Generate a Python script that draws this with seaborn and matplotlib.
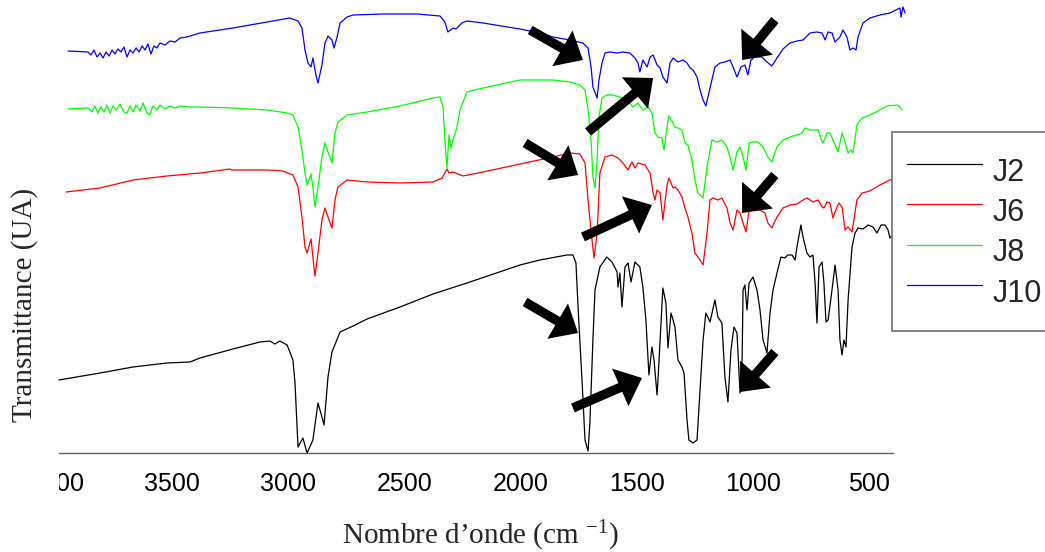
import numpy as np
import pandas as pd
import seaborn as sns
import matplotlib.pyplot as plt
from matplotlib.lines import Line2D
from matplotlib.transforms import Bbox, TransformedBbox

# Spectra (wavenumber in cm-1, transmittance in arbitrary units, offset stacked)
samples = ["J2", "J6", "J8", "J10"]
colors = ["black", "#ff0000", "#00ff00", "#0000ff"]

wn_j2 = [3988, 3811, 3669, 3523, 3424, 3381, 3239, 3123, 3080, 3058, 3037, 3006, 2981, 2972, 2959,
         2938, 2920, 2895, 2873, 2856, 2847, 2830, 2813, 2778, 2722, 2662, 2520, 2378, 2232, 2004,
         1918, 1802, 1776, 1763, 1754, 1737, 1724, 1711, 1703, 1690, 1681, 1660, 1630, 1608, 1586,
         1582, 1574, 1565, 1552, 1539, 1526, 1509, 1488, 1475, 1462, 1449, 1436, 1427, 1414, 1410,
         1397, 1389, 1376, 1367, 1354, 1345, 1337, 1324, 1307, 1298, 1285, 1277, 1259, 1242, 1229,
         1216, 1204, 1186, 1165, 1152, 1135, 1122, 1109, 1096, 1083, 1070, 1057, 1048, 1044, 1036,
         1027, 1018, 1001, 984, 971, 958, 941, 928, 915, 898, 881, 864, 851, 833, 820,
         812, 795, 786, 769, 756, 743, 734, 726, 717, 704, 696, 687, 678, 665, 648,
         635, 627, 618, 610, 601, 592, 575, 562, 549, 528, 506, 485, 468, 450, 433,
         420, 412, 399, 360]
t_j2 = [73, 80, 86, 90, 91, 95, 104, 111, 112, 109, 112, 108, 93, 70, 6,
        15, 0, 13, 50, 36, 28, 76, 101, 121, 127, 134, 146, 159, 170, 188,
        193, 198, 198, 190, 146, 73, 13, 2, 30, 113, 163, 186, 196, 191, 181,
        166, 180, 146, 186, 190, 171, 191, 186, 166, 133, 78, 106, 93, 58, 73,
        130, 165, 150, 105, 140, 133, 126, 93, 86, 80, 33, 13, 10, 13, 63,
        113, 140, 131, 153, 136, 130, 76, 51, 103, 126, 120, 60, 93, 163, 168,
        143, 170, 176, 163, 143, 113, 100, 140, 163, 180, 196, 195, 198, 198, 193,
        206, 228, 216, 200, 196, 198, 170, 130, 186, 191, 170, 131, 133, 156, 188,
        163, 113, 98, 113, 106, 153, 206, 220, 225, 224, 228, 226, 220, 228, 228,
        223, 215, 218, 222]

wn_j6 = [3957, 3811, 3669, 3523, 3381, 3252, 3243, 3092, 3024, 2981, 2959, 2942, 2929, 2920, 2903,
         2895, 2886, 2873, 2856, 2843, 2830, 2813, 2800, 2787, 2748, 2662, 2520, 2378, 2339, 2318,
         2309, 2292, 2249, 2163, 2004, 1862, 1789, 1746, 1724, 1711, 1694, 1685, 1672, 1660, 1638,
         1608, 1582, 1561, 1539, 1522, 1509, 1496, 1466, 1444, 1431, 1423, 1414, 1401, 1389, 1371,
         1363, 1345, 1337, 1324, 1307, 1294, 1281, 1264, 1251, 1229, 1216, 1199, 1186, 1173, 1152,
         1135, 1113, 1100, 1087, 1070, 1057, 1044, 1031, 1018, 1001, 971, 950, 937, 920, 898,
         872, 842, 812, 786, 769, 743, 721, 704, 696, 683, 670, 657, 640, 631, 618,
         605, 592, 575, 554, 532, 498, 455, 412, 347]
t_j6 = [261, 265, 273, 277, 280, 284, 283, 283, 282, 278, 266, 236, 206, 200, 214,
        196, 177, 200, 233, 245, 236, 225, 253, 266, 273, 271, 270, 271, 275, 284,
        280, 281, 277, 281, 289, 296, 300, 299, 290, 253, 213, 195, 220, 280, 296,
        298, 295, 290, 283, 291, 285, 290, 288, 280, 260, 253, 263, 260, 233, 268,
        275, 265, 266, 263, 256, 245, 236, 220, 200, 193, 188, 220, 253, 255, 253,
        255, 245, 230, 223, 243, 240, 230, 221, 243, 244, 243, 240, 230, 225, 236,
        245, 248, 249, 253, 255, 251, 253, 246, 245, 251, 250, 235, 246, 250, 246,
        223, 226, 221, 253, 260, 262, 268, 273, 277]

wn_j8 = [3949, 3863, 3846, 3833, 3820, 3807, 3794, 3781, 3768, 3755, 3742, 3725, 3708, 3695, 3682,
         3669, 3656, 3639, 3626, 3609, 3596, 3583, 3566, 3553, 3531, 3510, 3488, 3467, 3424, 3381,
         3239, 3092, 3006, 2981, 2959, 2942, 2929, 2920, 2903, 2895, 2886, 2873, 2856, 2843, 2830,
         2813, 2800, 2787, 2748, 2662, 2520, 2378, 2348, 2335, 2327, 2318, 2309, 2301, 2292, 2275,
         2262, 2232, 2163, 2004, 1862, 1789, 1746, 1724, 1711, 1698, 1690, 1681, 1672, 1664, 1651,
         1630, 1604, 1574, 1543, 1518, 1496, 1475, 1453, 1436, 1423, 1410, 1393, 1384, 1371, 1363,
         1345, 1337, 1324, 1307, 1294, 1281, 1264, 1251, 1238, 1216, 1199, 1178, 1156, 1135, 1113,
         1100, 1087, 1070, 1057, 1044, 1031, 1018, 1001, 980, 958, 937, 920, 898, 872, 842,
         812, 790, 777, 756, 721, 704, 700, 683, 670, 657, 644, 635, 618, 605, 592,
         579, 571, 554, 532, 498, 463, 424, 381, 369, 360]
t_j8 = [344, 345, 341, 347, 340, 346, 341, 348, 340, 347, 343, 349, 341, 340, 347,
        341, 348, 342, 350, 340, 338, 347, 343, 348, 344, 347, 345, 347, 346, 346,
        345, 343, 340, 338, 326, 303, 280, 268, 279, 266, 246, 266, 296, 310, 301,
        290, 320, 331, 338, 341, 347, 355, 356, 346, 313, 285, 318, 305, 313, 326,
        343, 361, 365, 373, 373, 371, 368, 363, 343, 313, 276, 265, 293, 336, 355,
        358, 358, 356, 353, 346, 350, 343, 346, 340, 320, 316, 315, 303, 326, 337,
        330, 326, 325, 323, 310, 308, 293, 273, 260, 255, 286, 313, 311, 313, 306,
        296, 283, 301, 306, 296, 283, 310, 311, 311, 306, 296, 291, 306, 313, 316,
        318, 320, 325, 323, 323, 311, 310, 320, 320, 313, 306, 301, 320, 311, 300,
        303, 300, 328, 335, 338, 342, 347, 348, 346, 343]

wn_j10 = [3949, 3863, 3850, 3837, 3824, 3811, 3798, 3785, 3772, 3759, 3747, 3734, 3721, 3708, 3695,
          3682, 3669, 3656, 3643, 3630, 3617, 3605, 3592, 3579, 3566, 3553, 3531, 3510, 3488, 3467,
          3437, 3381, 3239, 3092, 2994, 2959, 2942, 2929, 2916, 2903, 2895, 2882, 2873, 2856, 2843,
          2830, 2813, 2804, 2791, 2778, 2748, 2722, 2593, 2447, 2348, 2327, 2314, 2292, 2279, 2254,
          2232, 2163, 2004, 1918, 1862, 1789, 1733, 1711, 1698, 1690, 1672, 1664, 1651, 1638, 1617,
          1586, 1561, 1531, 1509, 1496, 1488, 1475, 1457, 1444, 1431, 1414, 1401, 1389, 1371, 1358,
          1345, 1324, 1302, 1285, 1272, 1259, 1242, 1229, 1216, 1204, 1195, 1178, 1165, 1143, 1122,
          1100, 1087, 1070, 1053, 1036, 1023, 1010, 993, 963, 941, 920, 898, 872, 842, 812,
          786, 756, 726, 704, 691, 678, 661, 648, 627, 614, 597, 584, 571, 558, 549,
          528, 498, 455, 412, 369, 364, 356, 347]
t_j10 = [402, 401, 398, 403, 396, 400, 395, 401, 397, 403, 399, 404, 401, 406, 396,
         403, 400, 405, 401, 407, 403, 409, 399, 407, 405, 410, 408, 412, 411, 415,
         416, 420, 425, 431, 435, 432, 425, 403, 390, 386, 395, 378, 370, 388, 410,
         417, 413, 405, 416, 430, 436, 438, 439, 439, 437, 431, 421, 425, 424, 430,
         432, 430, 424, 420, 416, 413, 410, 405, 386, 366, 355, 373, 390, 400, 401,
         400, 401, 400, 395, 390, 381, 393, 386, 396, 398, 388, 385, 376, 370, 390,
         395, 391, 393, 390, 385, 383, 376, 363, 353, 347, 356, 373, 386, 390, 391,
         393, 386, 376, 386, 388, 378, 393, 396, 396, 391, 387, 395, 404, 410, 412,
         413, 420, 421, 420, 413, 421, 420, 411, 416, 423, 416, 403, 405, 403, 416,
         430, 435, 438, 440, 445, 436, 446, 440]

major_ticks = [4000, 3500, 3000, 2500, 2000, 1500, 1000, 500]
minor_ticks = [3750, 3250, 2750, 2250, 1750, 1250, 750]

# arrows pointing at bands: tail -> head (wavenumber, transmittance)
arrow_x0 = [1960, 1711, 907, 1982, 1733, 907, 1982, 1776, 907]
arrow_y0 = [423, 321, 433, 310, 216, 278, 151, 45, 101]
arrow_x1 = [1733, 1431, 1048, 1754, 1436, 1048, 1754, 1479, 1057]
arrow_y1 = [393, 375, 393, 278, 248, 240, 120, 75, 61]

frames = []
for name, wn, t in zip(samples, [wn_j2, wn_j6, wn_j8, wn_j10], [t_j2, t_j6, t_j8, t_j10]):
    frames.append(pd.DataFrame({"wn": wn, "T": t, "sample": name}))
df = pd.concat(frames, ignore_index=True)

sns.set_style("white")
plt.rcParams["font.family"] = ["Liberation Sans", "DejaVu Sans"]
plt.rcParams["mathtext.fontset"] = "custom"
plt.rcParams["mathtext.rm"] = "Liberation Serif"
plt.rcParams["mathtext.it"] = "Liberation Serif:italic"

fig = plt.figure(figsize=(10.45, 5.52), dpi=100)
ax = fig.add_axes([56.1 / 1045, 99 / 552, 836.6 / 1045, 448 / 552])

sns.lineplot(data=df, x="wn", y="T", hue="sample", hue_order=samples, palette=colors,
             estimator=None, sort=False, lw=0.9, legend=False, ax=ax, clip_on=False)

ax.set_xlim(4000, 400)
ax.set_ylim(0, 448)
ax.set_xticks(major_ticks)
ax.set_xticklabels([str(v) for v in major_ticks])
ax.set_xticks(minor_ticks, minor=True)
ax.set_yticks([])
ax.tick_params(axis="x", which="major", direction="out", length=7.5, width=1,
               color="#606060", labelsize=18, pad=6, labelcolor="black")
ax.tick_params(axis="x", which="minor", direction="out", length=3.8, width=1, color="#606060")
ax.xaxis.get_major_ticks()[0].tick1line.set_visible(False)

for side in ["left", "top", "right"]:
    ax.spines[side].set_visible(False)
ax.spines["bottom"].set_color("#606060")
ax.spines["bottom"].set_linewidth(1.0)
ax.spines["bottom"].set_bounds(3988, 400)

# the first label is cut by the plot frame, as in the original
clip = TransformedBbox(Bbox([[59 / 1045, 0], [1, 0.5]]), fig.transFigure)
for lab in ax.get_xticklabels():
    lab.set_clip_box(clip)
    lab.set_clip_on(True)

ax.set_xlabel("Nombre d\u2019onde (cm $^{-1}$)", fontsize=21, family="Liberation Serif")
ax.xaxis.label.set_va("center")
ax.xaxis.set_label_coords(0.507, -0.186)
ax.set_ylabel("Transmittance (UA)", fontsize=21, family="Liberation Serif")
ax.yaxis.label.set_va("center")
ax.yaxis.set_label_coords(-0.038, 0.33)

for x0, y0, x1, y1 in zip(arrow_x0, arrow_y0, arrow_x1, arrow_y1):
    ax.annotate("", xy=(x1, y1), xytext=(x0, y0), annotation_clip=False,
                arrowprops=dict(arrowstyle="simple,head_length=1.7,head_width=2.95,tail_width=0.68",
                                fc="black", ec="black", lw=0, shrinkA=0, shrinkB=0,
                                mutation_scale=10))

handles = [Line2D([], [], color=c, lw=0.9) for c in colors]
leg = ax.legend(handles, samples, loc="upper left", bbox_to_anchor=(892 / 1045, 1 - 132 / 552),
                bbox_transform=fig.transFigure, fontsize=22, frameon=True, fancybox=False,
                edgecolor="#707070", facecolor="white", framealpha=1, borderpad=0.5,
                labelspacing=-0.225, handleheight=2.0, handlelength=2.45, handletextpad=0.33,
                borderaxespad=0)
leg.get_frame().set_linewidth(1.2)

fig.savefig("out.png", dpi=100)
